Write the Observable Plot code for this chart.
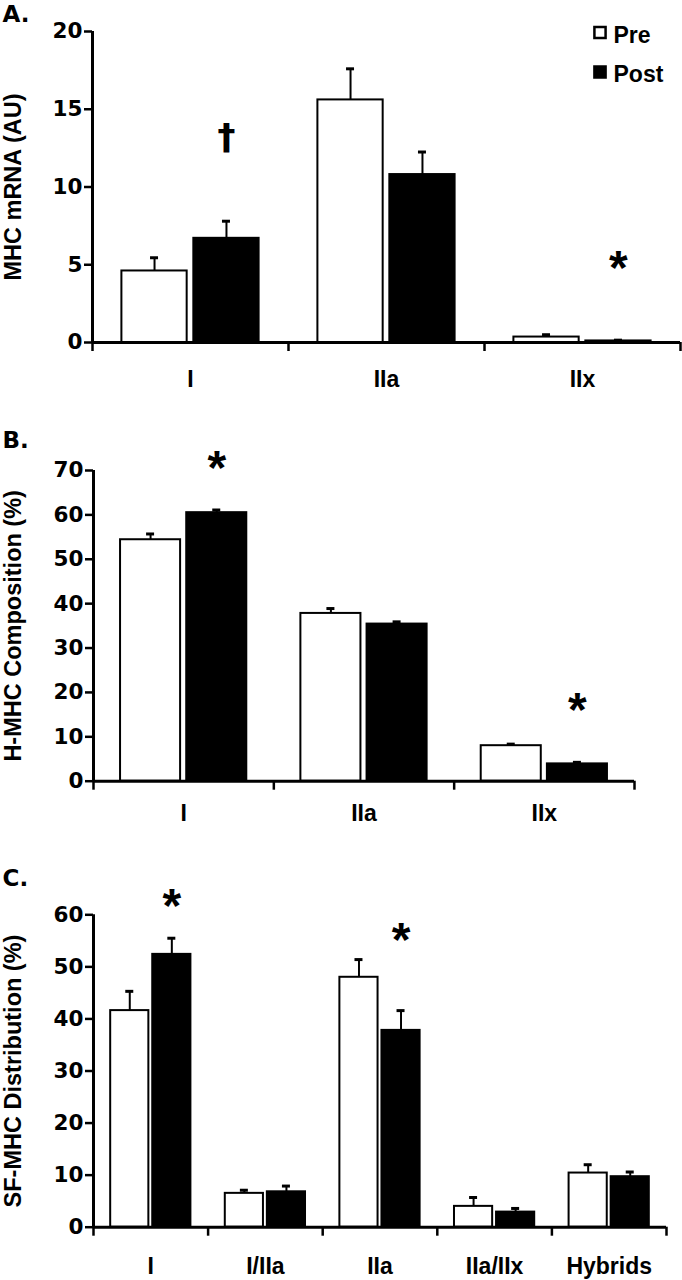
<!DOCTYPE html>
<html><head><meta charset="utf-8">
<script src="https://cdn.jsdelivr.net/npm/d3@7"></script>
<script src="https://cdn.jsdelivr.net/npm/@observablehq/plot@0.6"></script>
<style>
body{margin:0;background:#fff}
#chart{width:682px}
#chart svg{display:block;overflow:visible}
</style>
</head><body><div id="chart"></div>
<script>
const series = ["Pre", "Post"];

// Panel A: MHC mRNA (AU)
const catsA = ["I", "IIa", "IIx"];
const preA = [4.6, 15.6, 0.35];
const preErrA = [0.85, 2.0, 0.15];
const postA = [6.7, 10.8, 0.1];
const postErrA = [1.1, 1.45, 0.05];
const ticksA = [0, 5, 10, 15, 20];
const notesA = [{cat: "I", s: "Post", y: 13.2, t: "†"}, {cat: "IIx", s: "Post", y: 5.2, t: "*"}];

// Panel B: H-MHC Composition (%)
const catsB = ["I", "IIa", "IIx"];
const preB = [54.4, 37.8, 8.0];
const preErrB = [1.3, 1.1, 0.35];
const postB = [60.5, 35.4, 3.9];
const postErrB = [0.6, 0.5, 0.35];
const ticksB = [0, 10, 20, 30, 40, 50, 60, 70];
const notesB = [{cat: "I", s: "Post", y: 72.1, t: "*"}, {cat: "IIx", s: "Post", y: 17.4, t: "*"}];

// Panel C: SF-MHC Distribution (%)
const catsC = ["I", "I/IIa", "IIa", "IIa/IIx", "Hybrids"];
const preC = [41.6, 6.5, 48.0, 4.0, 10.4];
const preErrC = [3.7, 0.6, 3.4, 1.7, 1.6];
const postC = [52.4, 6.8, 37.8, 2.9, 9.7];
const postErrC = [3.1, 1.1, 3.8, 0.7, 0.9];
const ticksC = [0, 10, 20, 30, 40, 50, 60];
const notesC = [{cat: "I", s: "Post", y: 62.9, t: "*"}, {cat: "IIa", s: "Post", y: 56.3, t: "*"}];

const SANS = "'Liberation Sans', Arial, sans-serif";
const WIDE = "'DejaVu Sans', sans-serif";

function panel(o) {
  const {cats, pre, preErr, post, postErr, ticks, label, title, height, mt, mb, ml, mr, notes, labelPad, labelBase, legend} = o;
  const width = 682;
  const n = cats.length;
  const ymax = ticks[ticks.length - 1];
  const rows = [];
  cats.forEach((c, i) => {
    rows.push({i, cat: c, s: "Pre", v: pre[i], e: preErr[i]});
    rows.push({i, cat: c, s: "Post", v: post[i], e: postErr[i]});
  });
  const bandPx = (width - ml - mr) / n;
  const cap = 4 / bandPx;
  const slot = {Pre: [0.15, 0.483], Post: [0.517, 0.85]};
  const xc = d => d.i + (slot[d.s][0] + slot[d.s][1]) / 2;
  const noteX = d => cats.indexOf(d.cat) + (slot[d.s][0] + slot[d.s][1]) / 2;
  const marks = [
    Plot.ruleX(rows, {x: xc, y1: "v", y2: d => d.v + d.e, stroke: "black", strokeWidth: 2}),
    Plot.ruleY(rows, {y: d => d.v + d.e, x1: d => xc(d) - cap, x2: d => xc(d) + cap, stroke: "black", strokeWidth: 3}),
    Plot.rectY(rows, {x1: d => d.i + slot[d.s][0], x2: d => d.i + slot[d.s][1], y1: 0, y2: "v",
      fill: d => d.s === "Pre" ? "white" : "black", stroke: "black", strokeWidth: 2}),
    Plot.ruleX([0], {y1: 0, y2: ymax, stroke: "black", strokeWidth: 3}),
    Plot.ruleY([0], {stroke: "black", strokeWidth: 3}),
    Plot.axisY({ticks, tickSize: 8, tickPadding: 2, tickFormat: d => String(d), label: null,
      strokeWidth: 2.5, fontFamily: WIDE, fontSize: 21.5, fontWeight: "bold"}),
    Plot.axisX({ticks: d3.range(0, n + 1), tickSize: 9, tickFormat: () => "", label: null, strokeWidth: 2.5}),
    Plot.axisX({ticks: cats.map((c, i) => i + 0.5), tickSize: 0, tickPadding: labelPad,
      tickFormat: d => cats[Math.floor(d)], label: null, fontFamily: SANS, fontSize: 23, fontWeight: "bold"}),
    Plot.text([title], {frameAnchor: "left", dx: 13 - ml, rotate: -90, textAnchor: "middle", lineAnchor: "middle",
      fontFamily: SANS, fontSize: 23.5, fontWeight: "bold"}),
    Plot.text([label], {frameAnchor: "top-left", dx: 2 - ml, dy: labelBase - mt, textAnchor: "start", lineAnchor: "bottom",
      fontFamily: WIDE, fontSize: 23, fontWeight: "bold"}),
    Plot.text(notes.filter(d => d.t === "*"), {x: noteX, y: "y", text: "t",
      fontFamily: SANS, fontWeight: "bold", fontSize: 48, dy: 7}),
    Plot.text(notes.filter(d => d.t !== "*"), {x: noteX, y: "y", text: "t",
      fontFamily: WIDE, fontWeight: "bold", fontSize: 36, dy: 0})
  ];
  if (legend) {
    series.forEach((s, k) => {
      marks.push(Plot.dot([s], {frameAnchor: "top-left", dx: 599.5 - ml, dy: 32 + k * 39.5 - mt, symbol: "square", r: 6.3,
        fill: s === "Pre" ? "white" : "black", stroke: "black", strokeWidth: 2.5}));
      marks.push(Plot.text([s], {frameAnchor: "top-left", dx: 613 - ml, dy: 42 + k * 39.5 - mt, textAnchor: "start", lineAnchor: "bottom",
        fontFamily: SANS, fontSize: 23, fontWeight: "bold"}));
    });
  }
  return Plot.plot({
    width, height, marginTop: mt, marginBottom: mb, marginLeft: ml, marginRight: mr,
    x: {type: "linear", domain: [0, n]},
    y: {domain: [0, ymax]},
    style: {fontFamily: SANS, fontSize: "23px", fontWeight: "bold", background: "white", overflow: "visible", color: "black"},
    marks
  });
}

const root = document.getElementById("chart");
root.append(panel({cats: catsA, pre: preA, preErr: preErrA, post: postA, postErr: postErrA, ticks: ticksA,
  label: "A.", title: "MHC mRNA (AU)", height: 395, mt: 31, mb: 53, ml: 92, mr: 2, notes: notesA,
  labelPad: 28, labelBase: 21, legend: true}));
root.append(panel({cats: catsB, pre: preB, preErr: preErrB, post: postB, postErr: postErrB, ticks: ticksB,
  label: "B.", title: "H-MHC Composition (%)", height: 435, mt: 75, mb: 49.3, ml: 93, mr: 48, notes: notesB,
  labelPad: 23, labelBase: 52, legend: false}));
root.append(panel({cats: catsC, pre: preC, preErr: preErrC, post: postC, postErr: postErrC, ticks: ticksC,
  label: "C.", title: "SF-MHC Distribution (%)", height: 450, mt: 84.3, mb: 53.3, ml: 93, mr: 16, notes: notesC,
  labelPad: 30, labelBase: 55, legend: false}));
</script>
</body></html>
